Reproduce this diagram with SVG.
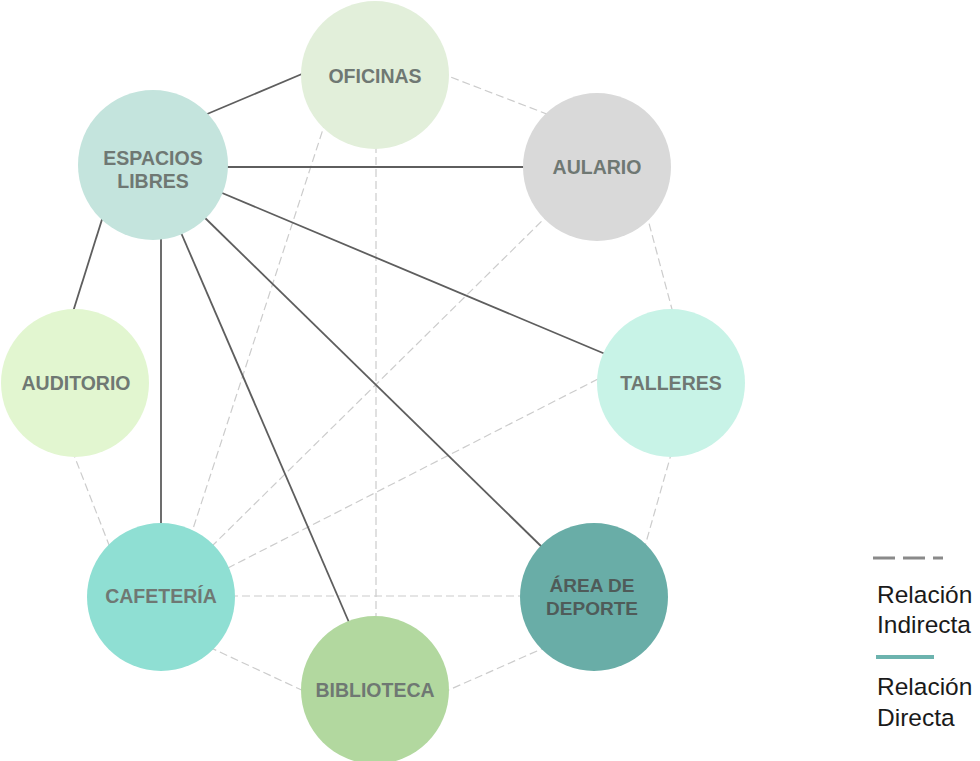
<svg xmlns="http://www.w3.org/2000/svg" width="980" height="761" viewBox="0 0 980 761">
  <style>
    .direct { stroke: #5e5e5e; stroke-width: 1.8; fill: none; }
    .indirect { stroke: #cccccc; stroke-width: 1.2; stroke-dasharray: 8 4; fill: none; }
    .label { font-family: "Liberation Sans", Arial, sans-serif; font-weight: bold; font-size: 19.5px; fill: #6f7873; text-anchor: middle; }
    .dark { fill: #4f5b59; font-size: 19px; }
    .legend { font-family: "Liberation Sans", Arial, sans-serif; font-size: 24.5px; fill: #1a1a1a; }
  </style>
  <rect width="980" height="761" fill="#ffffff"/>

  <!-- connectors -->
  <g id="connectors">
    <!-- indirect relations -->
    <line class="indirect" x1="440" y1="73" x2="552" y2="116"/>
    <line class="indirect" x1="326" y1="120" x2="190" y2="538"/>
    <line class="indirect" x1="376" y1="145" x2="376" y2="618"/>
    <line class="indirect" x1="646" y1="212" x2="673" y2="313"/>
    <line class="indirect" x1="550" y1="213" x2="208" y2="550"/>
    <line class="indirect" x1="598" y1="379" x2="222" y2="571"/>
    <line class="indirect" x1="672" y1="451" x2="645" y2="546"/>
    <line class="indirect" x1="72" y1="450" x2="111" y2="550"/>
    <line class="indirect" x1="230" y1="596" x2="524" y2="596"/>
    <line class="indirect" x1="209" y1="647" x2="308" y2="693"/>
    <line class="indirect" x1="442" y1="693" x2="546" y2="647"/>
    <!-- direct relations -->
    <line class="direct" x1="200" y1="117" x2="309" y2="71"/>
    <line class="direct" x1="222" y1="167" x2="528" y2="167"/>
    <line class="direct" x1="215" y1="190" x2="610" y2="356"/>
    <line class="direct" x1="201" y1="214" x2="546" y2="551"/>
    <line class="direct" x1="179" y1="228" x2="351" y2="627"/>
    <line class="direct" x1="161" y1="235" x2="161" y2="528"/>
    <line class="direct" x1="104" y1="213" x2="72" y2="315"/>
  </g>

  <!-- nodes -->
  <g id="oficinas">
    <circle cx="375" cy="75" r="74" fill="#e2efda"/>
    <text class="label" x="375" y="83">OFICINAS</text>
  </g>
  <g id="espacios-libres">
    <circle cx="153" cy="165" r="75" fill="#c4e4dd"/>
    <text class="label" x="153" y="165">ESPACIOS</text>
    <text class="label" x="153" y="188">LIBRES</text>
  </g>
  <g id="aulario">
    <circle cx="597" cy="167" r="74" fill="#d9d9d9"/>
    <text class="label" x="597" y="174">AULARIO</text>
  </g>
  <g id="auditorio">
    <circle cx="75" cy="383" r="74" fill="#e2f6d0"/>
    <text class="label" x="76" y="390">AUDITORIO</text>
  </g>
  <g id="talleres">
    <circle cx="671" cy="383" r="74" fill="#c8f3e7"/>
    <text class="label" x="671" y="390">TALLERES</text>
  </g>
  <g id="cafeteria">
    <circle cx="161" cy="597" r="74" fill="#8fdfd3"/>
    <text class="label" x="161" y="603">CAFETERÍA</text>
  </g>
  <g id="area-de-deporte">
    <circle cx="594" cy="597" r="74" fill="#69ada7"/>
    <text class="label dark" x="592" y="592">ÁREA DE</text>
    <text class="label dark" x="592" y="615">DEPORTE</text>
  </g>
  <g id="biblioteca">
    <circle cx="375" cy="690" r="74" fill="#b2d89f"/>
    <text class="label" x="375" y="697">BIBLIOTECA</text>
  </g>

  <!-- legend -->
  <g id="legend">
    <line x1="873" y1="558" x2="943" y2="558" stroke="#8a8a8a" stroke-width="3" stroke-dasharray="22 8"/>
    <text class="legend" x="877" y="603">Relación</text>
    <text class="legend" x="877" y="633">Indirecta</text>
    <line x1="876" y1="657" x2="934" y2="657" stroke="#6cb3ae" stroke-width="4"/>
    <text class="legend" x="877" y="695">Relación</text>
    <text class="legend" x="877" y="726">Directa</text>
  </g>
</svg>
